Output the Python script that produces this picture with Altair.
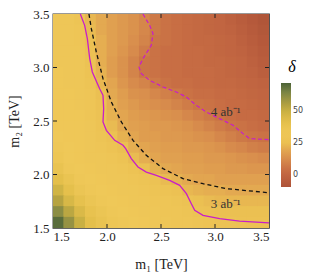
import altair as alt
import pandas as pd

# ---- heat-map values (cell centres, step 0.1 TeV) ----
m1_centers = [1.55, 1.65, 1.75, 1.85, 1.95, 2.05, 2.15, 2.25, 2.35, 2.45,
              2.55, 2.65, 2.75, 2.85, 2.95, 3.05, 3.15, 3.25, 3.35, 3.45]
m2_centers = [3.45, 3.35, 3.25, 3.15, 3.05, 2.95, 2.85, 2.75, 2.65, 2.55,
              2.45, 2.35, 2.25, 2.15, 2.05, 1.95, 1.85, 1.75, 1.65, 1.55]
delta_rows = [
    [31, 31, 29, 23, 20, 18, 16, 14, 11, 7, 5, 4, 3, 2, 1, 0, -2, -4, -6, -8],
    [31, 31, 30, 24, 20, 18, 16, 14, 11, 7, 5, 4, 3, 2, 1, 0, -1, -3, -5, -7],
    [31, 31, 30, 25, 21, 18, 16, 13, 10, 6, 5, 4, 3, 2, 2, 1, 0, -2, -4, -6],
    [31, 31, 31, 26, 21, 18, 15, 12, 8, 5, 4, 4, 3, 3, 2, 1, 0, -1, -3, -5],
    [31, 31, 31, 27, 21, 17, 14, 10, 6, 5, 4, 4, 3, 3, 2, 2, 1, 0, -2, -4],
    [32, 31, 31, 28, 22, 17, 14, 10, 6, 5, 4, 4, 3, 3, 3, 2, 1, 0, -1, -3],
    [32, 31, 31, 29, 23, 19, 15, 12, 10, 7, 5, 4, 4, 3, 3, 2, 2, 1, 0, -1],
    [32, 32, 31, 30, 25, 20, 17, 14, 13, 11, 9, 7, 5, 4, 4, 3, 3, 2, 1, 0],
    [32, 32, 31, 30, 26, 21, 18, 16, 14, 13, 12, 10, 8, 6, 5, 4, 3, 3, 2, 1],
    [32, 32, 32, 30, 27, 22, 19, 17, 16, 15, 14, 13, 11, 9, 7, 5, 4, 3, 3, 2],
    [32, 32, 32, 31, 28, 24, 20, 18, 17, 16, 16, 15, 14, 12, 10, 8, 6, 5, 4, 3],
    [33, 32, 32, 31, 29, 26, 22, 19, 17, 17, 16, 16, 15, 14, 13, 11, 9, 7, 6, 5],
    [34, 33, 32, 31, 30, 28, 25, 21, 19, 18, 17, 17, 16, 16, 15, 14, 12, 11, 9, 8],
    [35, 33, 32, 31, 31, 30, 28, 24, 21, 19, 18, 18, 17, 17, 16, 16, 15, 14, 13, 12],
    [38, 34, 33, 32, 31, 31, 30, 28, 25, 22, 20, 19, 18, 18, 17, 17, 16, 16, 15, 15],
    [42, 37, 34, 33, 32, 31, 31, 30, 29, 27, 24, 22, 20, 19, 19, 18, 18, 18, 18, 18],
    [48, 41, 36, 34, 33, 32, 31, 31, 30, 29, 28, 26, 23, 22, 21, 21, 20, 20, 20, 20],
    [54, 46, 40, 36, 34, 33, 32, 31, 31, 30, 30, 29, 27, 25, 24, 23, 23, 23, 23, 23],
    [62, 53, 45, 39, 36, 34, 33, 32, 31, 31, 30, 30, 29, 27, 26, 25, 25, 25, 25, 25],
    [70, 60, 50, 42, 38, 35, 34, 33, 32, 31, 31, 30, 30, 29, 28, 27, 27, 26, 26, 26],
]

# ---- contours ----
solid_m1 = [1.753, 1.793, 1.818, 1.840, 1.864, 1.932, 1.963, 1.969, 1.963, 1.994,
            2.071, 2.148, 2.173, 2.225, 2.287, 2.364, 2.457, 2.580, 2.673, 2.735,
            2.781, 2.812, 2.889, 3.043, 3.228, 3.500]
solid_m2 = [3.500, 3.394, 3.269, 3.083, 2.958, 2.802, 2.740, 2.615, 2.491, 2.413,
            2.319, 2.273, 2.241, 2.148, 2.070, 2.023, 1.992, 1.945, 1.899, 1.821,
            1.727, 1.665, 1.618, 1.587, 1.565, 1.548]
black_m1 = [1.833, 1.855, 1.901, 1.963, 2.040, 2.133, 2.241, 2.364, 2.519, 2.704,
            2.889, 3.105, 3.500]
black_m2 = [3.500, 3.363, 3.145, 2.896, 2.678, 2.491, 2.319, 2.179, 2.055, 1.961,
            1.914, 1.868, 1.829]
dash_m1 = [2.333, 2.395, 2.426, 2.410, 2.333, 2.296, 2.318, 2.395, 2.519, 2.642,
           2.735, 2.827, 2.920, 3.043, 3.167, 3.259, 3.321, 3.500]
dash_m2 = [3.500, 3.394, 3.316, 3.207, 3.083, 3.005, 2.942, 2.880, 2.818, 2.771,
           2.724, 2.646, 2.584, 2.522, 2.460, 2.382, 2.335, 2.326]

label_text = ["4 ab\u207b\u00b9", "3 ab\u207b\u00b9"]
label_m1 = [3.10, 3.10]
label_m2 = [2.585, 1.720]

tick_values = [1.5, 2.0, 2.5, 3.0, 3.5]
legend_values = [0, 25, 50]
color_stops = [-9.5, -3, 3, 8, 12, 18, 25, 33, 42, 50, 57, 64, 72]
color_range = ["#ad5338", "#bb5f3e", "#c66b43", "#cf7c48", "#d78b4c", "#e0a050",
               "#ebc052", "#efc858", "#e4bf4b", "#c9b043", "#a89a40", "#7f8846", "#4c6237"]

W, H = 216, 214
half = (m1_centers[1] - m1_centers[0]) / 2
pad = 0.004  # tiny overlap so neighbouring cells leave no seams

cells = []
for r, m2 in enumerate(m2_centers):
    for c, m1 in enumerate(m1_centers):
        cells.append({"x0": max(1.5, m1 - half - pad), "x1": min(3.5, m1 + half + pad),
                      "y0": max(1.5, m2 - half - pad), "y1": min(3.5, m2 + half + pad),
                      "delta": delta_rows[r][c]})
cells = pd.DataFrame(cells)

serif = "Liberation Serif"
xs = alt.Scale(domain=[1.5, 3.5], nice=False, zero=False)
ys = alt.Scale(domain=[1.5, 3.5], nice=False, zero=False)
xaxis = alt.Axis(values=tick_values, format=".1f", ticks=False, domain=False, grid=False,
                 labelFont=serif, labelFontSize=13, labelColor="#222", labelPadding=2,
                 title="m\u2081 [TeV]", titleFont=serif, titleFontSize=14,
                 titleFontWeight="normal", titleColor="#222", titlePadding=14)
yaxis = alt.Axis(values=tick_values, format=".1f", ticks=False, domain=False, grid=False,
                 labelFont=serif, labelFontSize=13, labelColor="#222", labelPadding=4,
                 title="m\u2082 [TeV]", titleFont=serif, titleFontSize=14,
                 titleFontWeight="normal", titleColor="#222", titlePadding=11)

cscale = alt.Scale(domain=color_stops, range=color_range, interpolate="rgb")

heat = alt.Chart(cells).mark_rect(strokeWidth=0).encode(
    x=alt.X("x0:Q", scale=xs, axis=xaxis),
    x2="x1:Q",
    y=alt.Y("y0:Q", scale=ys, axis=yaxis),
    y2="y1:Q",
    color=alt.Color("delta:Q", scale=cscale,
                    legend=alt.Legend(type="gradient", title="\u03b4", orient="none",
                                      legendX=228, legendY=45,
                                      values=legend_values, gradientLength=104,
                                      gradientThickness=10, direction="vertical",
                                      titleFont=serif, titleFontSize=16,
                                      titleFontStyle="italic", titleFontWeight="normal",
                                      titleAnchor="middle", titlePadding=8,
                                      labelFont="DejaVu Sans", labelFontSize=8,
                                      labelColor="#444", labelOffset=2,
                                      gradientStrokeWidth=0)),
)

def line_df(a, b):
    return pd.DataFrame({"m1": a, "m2": b, "i": list(range(len(a)))})

solid = alt.Chart(line_df(solid_m1, solid_m2)).mark_line(
    color="#c81ec8", strokeWidth=1.3).encode(
    x=alt.X("m1:Q", scale=xs, axis=xaxis), y=alt.Y("m2:Q", scale=ys, axis=yaxis), order="i:Q")
black = alt.Chart(line_df(black_m1, black_m2)).mark_line(
    color="#111111", strokeWidth=1.3, strokeDash=[4, 3]).encode(
    x=alt.X("m1:Q", scale=xs, axis=xaxis), y=alt.Y("m2:Q", scale=ys, axis=yaxis), order="i:Q")
dashed = alt.Chart(line_df(dash_m1, dash_m2)).mark_line(
    color="#c81ec8", strokeWidth=1.2, strokeDash=[4, 2.5]).encode(
    x=alt.X("m1:Q", scale=xs, axis=xaxis), y=alt.Y("m2:Q", scale=ys, axis=yaxis), order="i:Q")

labels = alt.Chart(pd.DataFrame({"t": label_text, "m1": label_m1, "m2": label_m2})).mark_text(
    font=serif, fontSize=13, color="#333").encode(
    x=alt.X("m1:Q", scale=xs, axis=xaxis), y=alt.Y("m2:Q", scale=ys, axis=yaxis), text="t:N")

tdf = pd.DataFrame({"t": tick_values[1:-1]})
tl = 4
tick_layers = [
    alt.Chart(tdf).mark_rule(color="#222", strokeWidth=1).encode(
        x=alt.X("t:Q", scale=xs, axis=xaxis), y=alt.value(H), y2=alt.value(H - tl)),
    alt.Chart(tdf).mark_rule(color="#222", strokeWidth=1).encode(
        x=alt.X("t:Q", scale=xs, axis=xaxis), y=alt.value(0), y2=alt.value(tl)),
    alt.Chart(tdf).mark_rule(color="#222", strokeWidth=1).encode(
        y=alt.Y("t:Q", scale=ys, axis=yaxis), x=alt.value(0), x2=alt.value(tl)),
    alt.Chart(tdf).mark_rule(color="#222", strokeWidth=1).encode(
        y=alt.Y("t:Q", scale=ys, axis=yaxis), x=alt.value(W), x2=alt.value(W - tl)),
]

chart = alt.layer(heat, solid, black, dashed, labels, *tick_layers).properties(
    width=W, height=H,
    autosize=alt.AutoSizeParams(type="none"),
    padding={"left": 45, "top": 6, "right": 36, "bottom": 44},
    background="white",
).configure_view(stroke="#333333", strokeWidth=1.3)

chart.save("out.html", embed_options={"renderer": "svg", "actions": False})
